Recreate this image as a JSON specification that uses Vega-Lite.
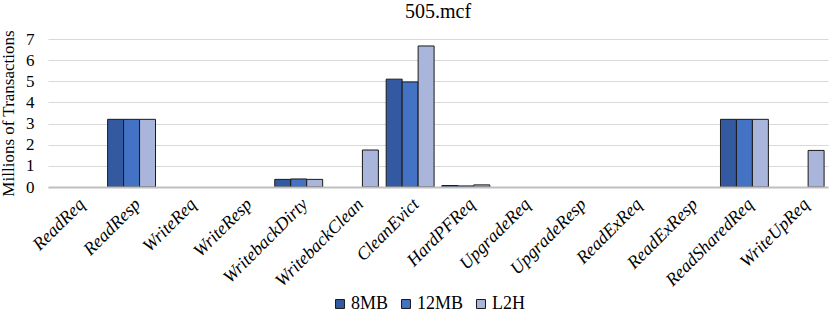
{
  "$schema": "https://vega.github.io/schema/vega-lite/v6.json",
  "width": 780,
  "height": 148,
  "autosize": {"type": "none"},
  "padding": {"left": 48, "top": 39, "right": 3, "bottom": 135},
  "background": "white",
  "title": {"text": "505.mcf", "font": "Liberation Serif", "fontSize": 20, "fontWeight": "normal", "color": "#000", "anchor": "middle", "offset": 8},
  "data": {"values": [
    {"cat": "ReadReq", "s": "8MB", "v": 0}, {"cat": "ReadReq", "s": "12MB", "v": 0}, {"cat": "ReadReq", "s": "L2H", "v": 0},
    {"cat": "ReadResp", "s": "8MB", "v": 3.2}, {"cat": "ReadResp", "s": "12MB", "v": 3.2}, {"cat": "ReadResp", "s": "L2H", "v": 3.2},
    {"cat": "WriteReq", "s": "8MB", "v": 0}, {"cat": "WriteReq", "s": "12MB", "v": 0}, {"cat": "WriteReq", "s": "L2H", "v": 0},
    {"cat": "WriteResp", "s": "8MB", "v": 0}, {"cat": "WriteResp", "s": "12MB", "v": 0}, {"cat": "WriteResp", "s": "L2H", "v": 0},
    {"cat": "WritebackDirty", "s": "8MB", "v": 0.36}, {"cat": "WritebackDirty", "s": "12MB", "v": 0.38}, {"cat": "WritebackDirty", "s": "L2H", "v": 0.36},
    {"cat": "WritebackClean", "s": "8MB", "v": 0}, {"cat": "WritebackClean", "s": "12MB", "v": 0}, {"cat": "WritebackClean", "s": "L2H", "v": 1.75},
    {"cat": "CleanEvict", "s": "8MB", "v": 5.1}, {"cat": "CleanEvict", "s": "12MB", "v": 4.97}, {"cat": "CleanEvict", "s": "L2H", "v": 6.67},
    {"cat": "HardPFReq", "s": "8MB", "v": 0.07}, {"cat": "HardPFReq", "s": "12MB", "v": 0.05}, {"cat": "HardPFReq", "s": "L2H", "v": 0.1},
    {"cat": "UpgradeReq", "s": "8MB", "v": 0}, {"cat": "UpgradeReq", "s": "12MB", "v": 0}, {"cat": "UpgradeReq", "s": "L2H", "v": 0},
    {"cat": "UpgradeResp", "s": "8MB", "v": 0}, {"cat": "UpgradeResp", "s": "12MB", "v": 0}, {"cat": "UpgradeResp", "s": "L2H", "v": 0},
    {"cat": "ReadExReq", "s": "8MB", "v": 0}, {"cat": "ReadExReq", "s": "12MB", "v": 0}, {"cat": "ReadExReq", "s": "L2H", "v": 0},
    {"cat": "ReadExResp", "s": "8MB", "v": 0}, {"cat": "ReadExResp", "s": "12MB", "v": 0}, {"cat": "ReadExResp", "s": "L2H", "v": 0},
    {"cat": "ReadSharedReq", "s": "8MB", "v": 3.2}, {"cat": "ReadSharedReq", "s": "12MB", "v": 3.2}, {"cat": "ReadSharedReq", "s": "L2H", "v": 3.2},
    {"cat": "WriteUpReq", "s": "8MB", "v": 0}, {"cat": "WriteUpReq", "s": "12MB", "v": 0}, {"cat": "WriteUpReq", "s": "L2H", "v": 1.73}
  ]},
  "mark": {"type": "bar", "stroke": "#1a1a1a", "strokeWidth": 1},
  "encoding": {
    "x": {
      "field": "cat", "type": "nominal", "sort": null,
      "scale": {"paddingInner": 0.14, "paddingOuter": 0.07},
      "axis": {"title": null, "labelAngle": -45, "labelFont": "Liberation Serif", "labelFontStyle": "italic", "labelFontSize": 18, "labelColor": "#000", "ticks": false, "domainColor": "#bfbfbf", "domainWidth": 2, "labelPadding": 8, "grid": false, "zindex": 1}
    },
    "xOffset": {"field": "s", "type": "nominal", "sort": ["8MB", "12MB", "L2H"], "scale": {"paddingInner": 0, "paddingOuter": 0}},
    "y": {
      "field": "v", "type": "quantitative",
      "scale": {"domain": [0, 7], "nice": false},
      "axis": {"title": "Millions of Transactions", "titleFont": "Liberation Serif", "titleFontWeight": "normal", "titleFontSize": 17, "titleColor": "#000", "titlePadding": 8, "labelFont": "Liberation Serif", "labelFontSize": 17, "labelColor": "#000", "ticks": false, "domain": false, "gridColor": "#d9d9d9", "gridWidth": 1, "values": [0,1,2,3,4,5,6,7], "labelOverlap": false, "labelFlush": false, "labelPadding": 14}
    },
    "strokeOpacity": {"condition": {"test": "datum.v > 0", "value": 1}, "value": 0},
    "color": {
      "field": "s", "type": "nominal", "sort": ["8MB", "12MB", "L2H"],
      "scale": {"domain": ["8MB", "12MB", "L2H"], "range": ["#335aa1", "#4472c4", "#a9b5da"]},
      "legend": {"title": null, "orient": "none", "legendX": 283, "legendY": 256, "direction": "horizontal", "symbolType": "square", "symbolSize": 80, "symbolStrokeColor": "#1a1a1a", "symbolStrokeWidth": 1, "labelFont": "Liberation Serif", "labelFontSize": 18, "labelColor": "#000", "columnPadding": 8, "symbolOffset": 0, "labelOffset": 2}
    }
  },
  "config": {"view": {"stroke": null}}
}
